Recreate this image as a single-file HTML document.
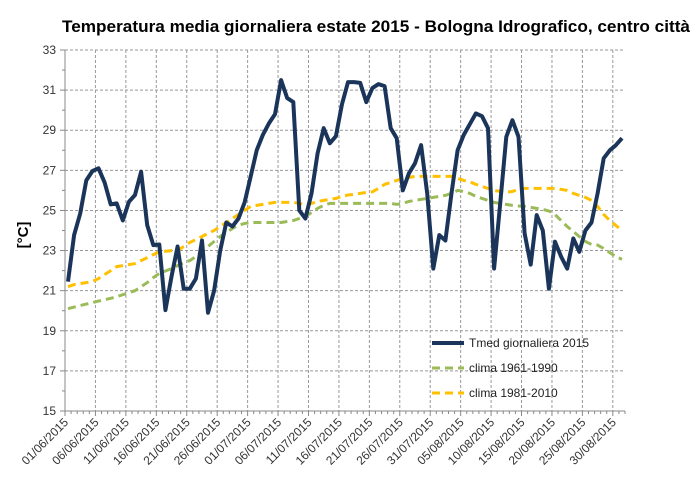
<!DOCTYPE html>
<html><head><meta charset="utf-8"><style>
body{margin:0;background:#fff;}
svg{display:block;font-family:"Liberation Sans",sans-serif;}
</style></head><body>
<svg id="chart" width="700" height="489" viewBox="0 0 700 489" xmlns="http://www.w3.org/2000/svg">
<rect width="700" height="489" fill="#fff"/>
<text x="62" y="32" textLength="628" lengthAdjust="spacingAndGlyphs" font-size="17" font-weight="bold" fill="#000">Temperatura media giornaliera estate 2015 - Bologna Idrografico, centro città</text>
<text transform="translate(28,235) rotate(-90)" text-anchor="middle" font-size="15" font-weight="bold" fill="#000">[°C]</text>
<g id="grid"></g><g id="axes"></g><g id="series"></g>
<g>
<line x1="432" y1="343" x2="464" y2="343" stroke="#1b355a" stroke-width="4"/>
<text x="469" y="347" font-size="12" fill="#222">Tmed giornaliera 2015</text>
<line x1="432" y1="368" x2="464" y2="368" stroke="#9bbb59" stroke-width="3" stroke-dasharray="8 5"/>
<text x="469" y="372" font-size="12" fill="#222">clima 1961-1990</text>
<line x1="432" y1="393" x2="464" y2="393" stroke="#ffc000" stroke-width="3" stroke-dasharray="8 5"/>
<text x="469" y="397" font-size="12" fill="#222">clima 1981-2010</text>
</g>
</svg>
<script>
const tickLabels=["01/06/2015","06/06/2015","11/06/2015","16/06/2015","21/06/2015","26/06/2015","01/07/2015","06/07/2015","11/07/2015","16/07/2015","21/07/2015","26/07/2015","31/07/2015","05/08/2015","10/08/2015","15/08/2015","20/08/2015","25/08/2015","30/08/2015"];
const yTicks=[15,17,19,21,23,25,27,29,31,33];
const tmed=[21.45,23.77,24.85,26.5,26.96,27.1,26.4,25.3,25.35,24.5,25.43,25.77,26.93,24.27,23.27,23.3,20.03,21.7,23.2,21.1,21.1,21.6,23.5,19.9,21.0,23.0,24.4,24.2,24.6,25.4,26.7,28.0,28.76,29.34,29.8,31.5,30.6,30.4,25.0,24.6,25.85,27.85,29.1,28.35,28.7,30.3,31.4,31.4,31.36,30.4,31.1,31.3,31.2,29.1,28.6,26.0,26.85,27.35,28.26,25.85,22.1,23.77,23.5,25.85,28.0,28.76,29.3,29.84,29.7,29.1,22.1,25.35,28.67,29.5,28.67,23.86,22.3,24.77,24.0,21.1,23.44,22.7,22.1,23.6,22.94,24.0,24.4,25.85,27.6,28.0,28.26,28.6];
const clima6190=[20.1,20.18,20.26,20.33,20.4,20.48,20.55,20.62,20.7,20.8,20.9,21.0,21.2,21.4,21.65,21.86,21.98,22.1,22.25,22.4,22.5,22.7,22.95,23.2,23.45,23.7,23.9,24.1,24.27,24.35,24.4,24.4,24.4,24.4,24.4,24.4,24.45,24.5,24.6,24.7,24.9,25.1,25.25,25.35,25.35,25.35,25.35,25.35,25.35,25.35,25.35,25.35,25.35,25.35,25.3,25.35,25.45,25.5,25.55,25.6,25.65,25.7,25.75,25.85,26.0,25.95,25.85,25.7,25.6,25.5,25.4,25.35,25.3,25.25,25.22,25.2,25.15,25.1,25.05,24.97,24.8,24.5,24.2,23.95,23.7,23.45,23.3,23.27,23.1,22.9,22.7,22.56];
const clima8110=[21.2,21.3,21.35,21.4,21.45,21.6,21.8,22.0,22.2,22.25,22.3,22.35,22.5,22.65,22.8,22.94,22.97,23.0,23.0,23.2,23.4,23.55,23.7,23.85,24.0,24.2,24.4,24.6,24.8,25.0,25.2,25.25,25.3,25.35,25.4,25.4,25.4,25.4,25.35,25.3,25.35,25.45,25.5,25.55,25.6,25.7,25.77,25.8,25.85,25.9,25.93,26.1,26.3,26.4,26.5,26.6,26.65,26.7,26.7,26.7,26.7,26.7,26.7,26.7,26.6,26.5,26.43,26.3,26.2,26.1,26.0,25.95,25.9,25.95,26.05,26.1,26.1,26.1,26.1,26.1,26.1,26.05,26.0,25.85,25.75,25.65,25.5,25.2,24.8,24.5,24.25,24.0];
const NS="http://www.w3.org/2000/svg";
const X0=65,X1=625,Y0=411,Y1=50,N=92;
const dw=(X1-X0)/N;
function xTick(k){return X0+k*dw;}
function xPt(i){return X0+(i+0.5)*dw;}
function yv(v){return Y0-(v-15)*(Y0-Y1)/18;}
function mk(tag,attrs,parent){const e=document.createElementNS(NS,tag);for(const k in attrs)e.setAttribute(k,attrs[k]);parent.appendChild(e);return e;}
const grid=document.getElementById('grid'),axes=document.getElementById('axes'),series=document.getElementById('series');
yTicks.forEach(t=>{
  if(t>15){const l=mk('line',{x1:X0,x2:X1,y1:yv(t),y2:yv(t),stroke:'#999','stroke-width':1,'stroke-dasharray':'3 2'},grid);
  
  }
  const tx=mk('text',{x:X0-9,y:yv(t)+4,'text-anchor':'end','font-size':12,fill:'#333'},axes);
  tx.textContent=t;
  
  
  mk('line',{x1:X0-5,x2:X0,y1:yv(t),y2:yv(t),stroke:'#888'},axes);
});
for(let t=16;t<33;t+=2){mk('line',{x1:X0-3,x2:X0,y1:yv(t),y2:yv(t),stroke:'#888'},axes);}
tickLabels.forEach((lab,k)=>{
  const x=xTick(k*5);
  if(k>0){const l=mk('line',{x1:x,x2:x,y1:Y1,y2:Y0,stroke:'#999','stroke-width':1,'stroke-dasharray':'3 2'},grid);
  
  }
  const tx=mk('text',{x:x+4,y:Y0+12,'text-anchor':'end','font-size':12,fill:'#333',transform:`rotate(-45 ${x+4} ${Y0+12})`},axes);
  tx.textContent=lab;
  
  
});
for(let k=0;k<=N;k++){mk('line',{x1:xTick(k),x2:xTick(k),y1:Y0,y2:Y0+(k%5==0?5:3),stroke:'#888'},axes);}
const ya=mk('line',{x1:X0,x2:X0,y1:Y1,y2:Y0,stroke:'#888'},axes);


const xa=mk('line',{x1:X0,x2:X1,y1:Y0,y2:Y0,stroke:'#888'},axes);


function pts(arr){return arr.map((v,i)=>xPt(i).toFixed(1)+','+yv(v).toFixed(1)).join(' ');}
const g1=mk('polyline',{points:pts(clima6190),fill:'none',stroke:'#9bbb59','stroke-width':3,'stroke-dasharray':'8 5'},series);


const g2=mk('polyline',{points:pts(clima8110),fill:'none',stroke:'#ffc000','stroke-width':3,'stroke-dasharray':'8 5'},series);


const g3=mk('polyline',{points:pts(tmed),fill:'none',stroke:'#1b355a','stroke-width':4,'stroke-linejoin':'round'},series);


</script>
</body></html>
